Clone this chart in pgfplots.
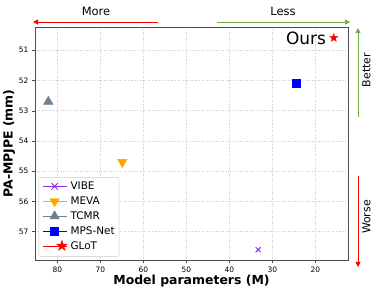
\documentclass[border=0pt]{standalone}
\usepackage{pgfplots}
\pgfplotsset{compat=1.18}
\usepackage{fontspec}
\setmainfont{DejaVu Sans}
\setsansfont{DejaVu Sans}
\usetikzlibrary{arrows.meta}
\definecolor{vibe}{HTML}{8A2BE2}
\definecolor{meva}{HTML}{FFA500}
\definecolor{tcmr}{HTML}{708090}
\definecolor{lgreen}{HTML}{6AAF45}
\begin{document}
\begin{tikzpicture}[x=1bp,y=1bp]
\path[use as bounding box] (-35bp,-33bp) rectangle (346bp,260bp);
\begin{axis}[
  scale only axis, width=313bp, height=233bp,
  at={(0,0)}, anchor=south west,
  x dir=reverse, y dir=reverse,
  xmin=12.4, xmax=85.2, ymin=50.23, ymax=57.94,
  xtick={20,30,40,50,60,70,80},
  ytick={51,52,53,54,55,56,57},
  grid=major,
  grid style={dotted, gray!40, line width=0.5pt},
  axis line style={black!70, line width=0.8pt},
  tick style={black!70},
  major tick length=3bp,
  tick align=outside,
  xtick pos=bottom, ytick pos=left,
  ticklabel style={font=\fontsize{7.5}{8}\selectfont},
  /pgf/number format/assume math mode=true,
  xlabel={\bfseries\fontsize{12.5}{14}\selectfont Model parameters (M)},
  ylabel={\bfseries\fontsize{12.5}{14}\selectfont PA-MPJPE (mm)},
  xlabel style={yshift=4bp},
  ylabel style={yshift=-3bp},
  legend style={at={(0.012,0.015)}, anchor=south west, font=\fontsize{10.5}{12.5}\selectfont,
    draw=black!20, rounded corners=2pt, row sep=2.8pt, inner xsep=3pt, inner ysep=3pt,
    nodes={inner sep=1.5pt}},
  legend cell align=left,
]
\addplot[only marks, mark=x, mark size=3.5pt, color=vibe, line width=0.9pt,
  legend image code/.code={\draw[vibe, line width=1.3pt] (0bp,0bp)--(24bp,0bp); \draw[vibe,line width=1pt] plot[mark=x, mark size=4.5pt] coordinates{(12bp,0bp)};}]
  coordinates {(33.3,57.6)};
\addlegendentry{VIBE}
\addplot[only marks, mark=triangle*, mark options={rotate=180}, mark size=5.5pt, color=meva,
  legend image code/.code={\draw[meva, line width=1.3pt] (0bp,0bp)--(24bp,0bp); \fill[meva] plot[mark=triangle*, mark options={rotate=180}, mark size=5.5pt] coordinates{(12bp,0bp)};}]
  coordinates {(64.9,54.7)};
\addlegendentry{MEVA}
\addplot[only marks, mark=triangle*, mark size=5.5pt, color=tcmr,
  legend image code/.code={\draw[tcmr, line width=1.3pt] (0bp,0bp)--(24bp,0bp); \fill[tcmr] plot[mark=triangle*, mark size=5.5pt] coordinates{(12bp,0bp)};}]
  coordinates {(82.1,52.7)};
\addlegendentry{TCMR}
\addplot[only marks, mark=square*, mark size=4pt, color=blue,
  legend image code/.code={\draw[blue, line width=1.3pt] (0bp,0bp)--(24bp,0bp); \fill[blue] plot[mark=square*, mark size=4pt] coordinates{(12bp,0bp)};}]
  coordinates {(24.4,52.1)};
\addlegendentry{MPS-Net}
\addplot[only marks, mark=none, color=red,
  legend image code/.code={\draw[red, line width=1.3pt] (0bp,0bp)--(24bp,0bp); \node[red, inner sep=0pt, font=\fontsize{16}{16}\selectfont] at (12bp,-0.5bp) {★};}]
  coordinates {(15.7,50.6)};
\addlegendentry{GLoT}
\addplot[only marks, mark=none, nodes near coords={★}, nodes near coords align={center},
  every node near coord/.style={red, inner sep=0pt, font=\fontsize{13}{13}\selectfont}]
  coordinates {(15.7,50.6)};
\node[anchor=east, font=\fontsize{17}{18}\selectfont, inner sep=0pt] at (axis cs:17.5,50.6) {Ours};
\end{axis}
\draw[red, line width=1pt, -{Triangle[length=5bp,width=5bp]}] (123,238) -- (-2,238);
\node[font=\fontsize{11.5}{13}\selectfont] at (61,249) {More};
\draw[lgreen, line width=1pt, -{Triangle[length=5bp,width=5bp]}] (182,238) -- (315,238);
\node[font=\fontsize{11.5}{13}\selectfont] at (248,249) {Less};
\draw[lgreen, line width=1pt, -{Triangle[length=5bp,width=5bp]}] (323,143) -- (323,232);
\node[rotate=90, font=\fontsize{11}{12}\selectfont] at (331.5,190) {Better};
\draw[red, line width=1pt, -{Triangle[length=5bp,width=5bp]}] (323,84) -- (323,-7);
\node[rotate=90, font=\fontsize{11}{12}\selectfont] at (331.5,43) {Worse};
\end{tikzpicture}
\end{document}
